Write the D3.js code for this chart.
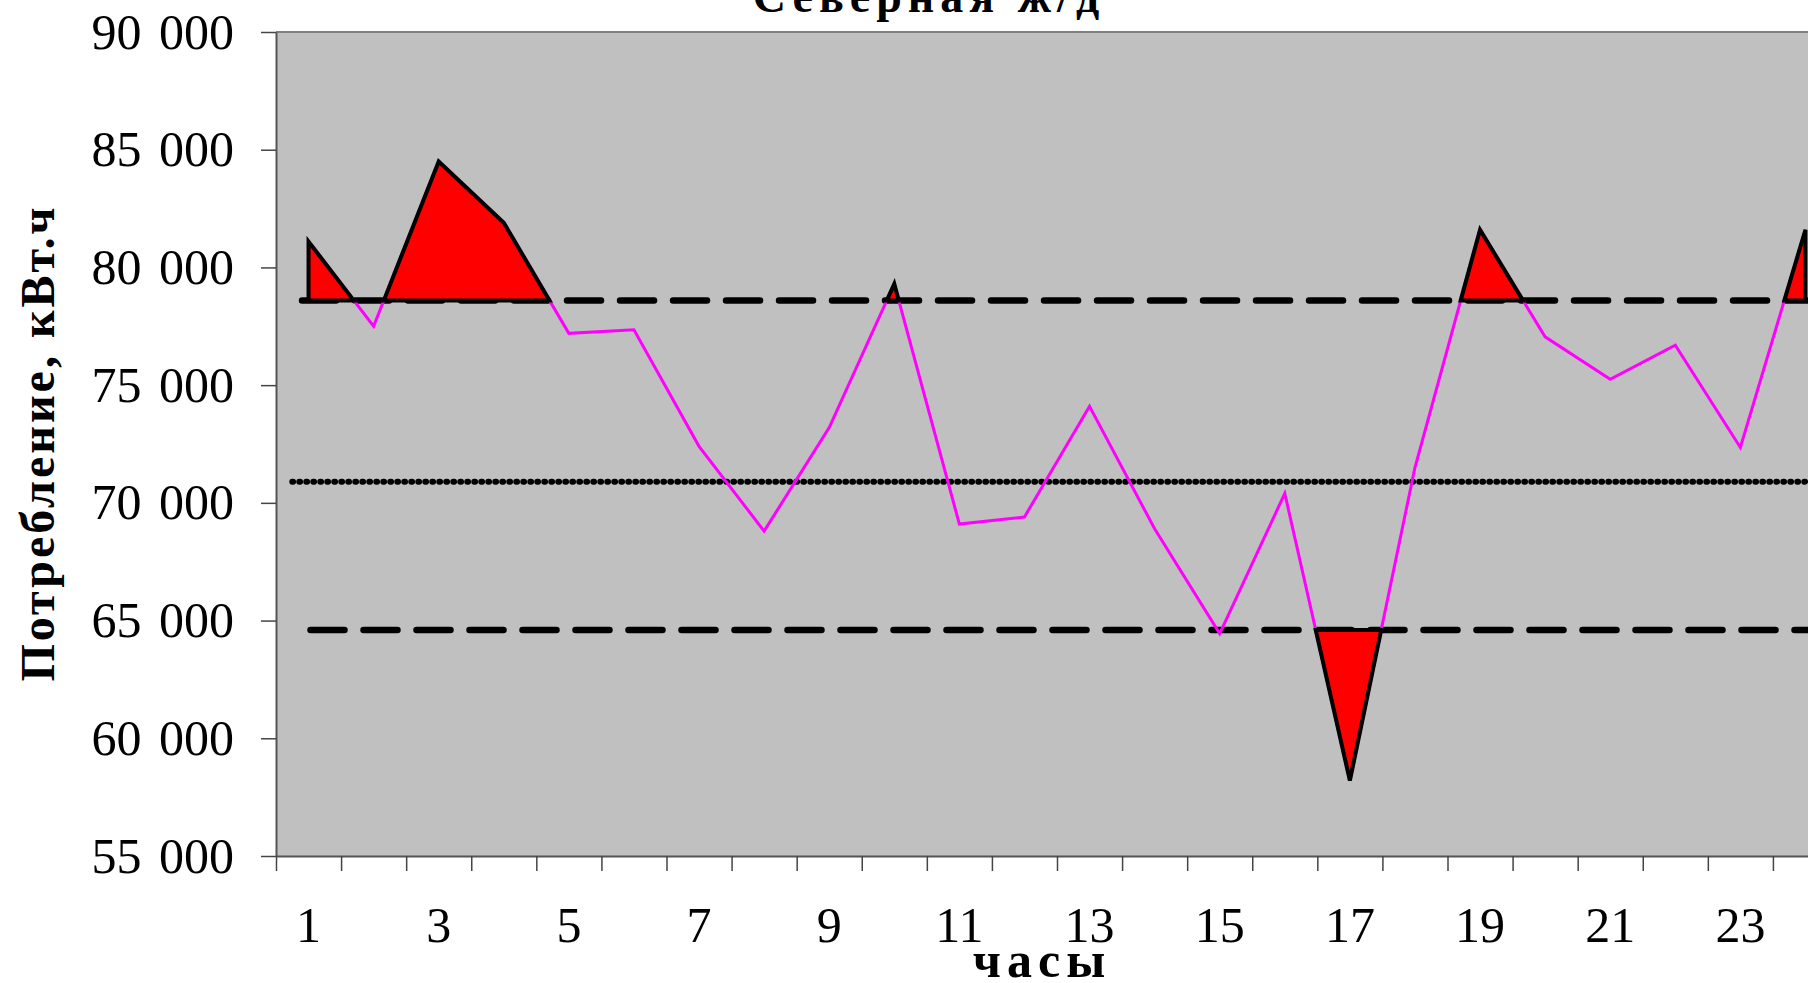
<!DOCTYPE html>
<html>
<head>
<meta charset="utf-8">
<script src="https://cdn.jsdelivr.net/npm/d3@7/dist/d3.min.js"></script>
<style>
    body { margin: 0; background: #fff; overflow: hidden; }
    svg { display: block; font-family: "Liberation Serif", "Times New Roman", serif; }
</style>
</head>
<body>
<div id="chart-area"></div>
<script>
// Hourly consumption, Северная ж/д
var hours = [1, 2, 3, 4, 5, 6, 7, 8, 9, 10, 11, 12, 13, 14, 15, 16, 17, 18, 19, 20, 21, 22, 23, 24];
var consumption = [81100, 77500, 84500, 81900, 77200, 77350, 72400, 68800, 73200, 79300, 69100, 69400,
                   74100, 68900, 64450, 70400, 58200, 71500, 81600, 77050, 75250, 76700, 72350, 81600];
// control limits
var meanLevel = 70900;
var upperLimit = 78600;
var lowerLimit = 64600;
// hours marked as out of limits
var flaggedHours = [1, 3, 4, 10, 17, 19, 24];

var yTickValues = [55000, 60000, 65000, 70000, 75000, 80000, 85000, 90000];
var xTickLabels = [1, 3, 5, 7, 9, 11, 13, 15, 17, 19, 21, 23];

var width = 1808, height = 983;

var svg = d3.select("#chart-area")
    .append("svg")
        .attr("width", width)
        .attr("height", height);

// Scales
var x = d3.scaleLinear()
    .domain([0.5, 24.5])
    .range([276, 1838]);
var y = d3.scaleLinear()
    .domain([55000, 90000])
    .range([856, 32]);

var ru = d3.formatLocale({ decimal: ",", thousands: " ", grouping: [3], currency: ["", " руб."] });

// Plot area
svg.append("rect")
    .attr("x", x(0.5))
    .attr("y", y(90000))
    .attr("width", x(24.5) - x(0.5))
    .attr("height", y(55000) - y(90000))
    .attr("fill", "#c0c0c0");
svg.append("line")
    .attr("x1", x(0.5)).attr("x2", x(24.5))
    .attr("y1", y(90000)).attr("y2", y(90000))
    .attr("stroke", "#808080")
    .attr("stroke-width", 2);

// Control lines
svg.append("line")
    .attr("x1", x(0.9)).attr("x2", x(24.5))
    .attr("y1", y(upperLimit)).attr("y2", y(upperLimit))
    .attr("stroke", "#000").attr("stroke-width", 6.5)
    .attr("stroke-linecap", "round")
    .attr("stroke-dasharray", "34,19");
svg.append("line")
    .attr("x1", x(1.03)).attr("x2", x(24.5))
    .attr("y1", y(lowerLimit)).attr("y2", y(lowerLimit))
    .attr("stroke", "#000").attr("stroke-width", 6.5)
    .attr("stroke-linecap", "round")
    .attr("stroke-dasharray", "34,19");
svg.append("line")
    .attr("x1", x(0.75)).attr("x2", x(24.5))
    .attr("y1", y(meanLevel)).attr("y2", y(meanLevel))
    .attr("stroke", "#000").attr("stroke-width", 6)
    .attr("stroke-linecap", "round")
    .attr("stroke-dasharray", "0.8,6.2");

// Consumption line
var line = d3.line()
    .x(function(d, i){ return x(hours[i]); })
    .y(function(d){ return y(d); });
svg.append("path")
    .datum(consumption)
    .attr("d", line)
    .attr("fill", "none")
    .attr("stroke", "#ff00ff")
    .attr("stroke-width", 3)
    .attr("stroke-linejoin", "miter");

// Excursions beyond the limits (filled red)
function excursions(limit, above) {
    var out = [], cur = null, marked = false;
    function beyond(v){ return above ? v > limit : v < limit; }
    function cross(i){
        var t = (limit - consumption[i-1]) / (consumption[i] - consumption[i-1]);
        return [hours[i-1] + t * (hours[i] - hours[i-1]), limit];
    }
    consumption.forEach(function(v, i){
        if (beyond(v)) {
            if (!cur) {
                cur = [];
                marked = false;
                cur.push(i > 0 ? cross(i) : [hours[i], limit]);
            }
            cur.push([hours[i], v]);
            if (flaggedHours.indexOf(hours[i]) >= 0) marked = true;
        } else if (cur) {
            cur.push(cross(i));
            if (marked) out.push(cur);
            cur = null;
        }
    });
    if (cur) {
        cur.push([hours[hours.length - 1], limit]);
        if (marked) out.push(cur);
    }
    return out;
}

var area = d3.line()
    .x(function(d){ return x(d[0]); })
    .y(function(d){ return y(d[1]); });

svg.selectAll("path.excursion")
    .data(excursions(upperLimit, true).concat(excursions(lowerLimit, false)))
    .enter()
    .append("path")
        .attr("class", "excursion")
        .attr("d", function(d){ return area(d) + "Z"; })
        .attr("fill", "#ff0000")
        .attr("stroke", "#000")
        .attr("stroke-width", 4)
        .attr("stroke-linejoin", "miter");

// Y Axis
var yAxisCall = d3.axisLeft(y)
    .tickValues(yTickValues)
    .tickSize(15)
    .tickSizeOuter(0)
    .tickPadding(27)
    .tickFormat(ru.format(",.0f"));
var yAxis = svg.append("g")
    .attr("class", "y axis")
    .attr("transform", "translate(" + x(0.5) + ",0)")
    .call(yAxisCall);

// X Axis: ticks on category boundaries, labels on odd hours
var xAxisCall = d3.axisBottom(x)
    .tickValues(d3.range(0.5, 24.5, 1))
    .tickSize(15)
    .tickSizeOuter(0)
    .tickFormat("");
var xAxis = svg.append("g")
    .attr("class", "x axis")
    .attr("transform", "translate(0," + y(55000) + ")")
    .call(xAxisCall);

[yAxis, xAxis].forEach(function(a){
    a.select(".domain").attr("stroke", "#555").attr("stroke-width", 2);
    a.selectAll(".tick line").attr("stroke", "#444").attr("stroke-width", 1.5);
});
yAxis.selectAll(".tick text")
    .attr("font-size", "50px")
    .attr("font-family", "Liberation Serif")
    .attr("fill", "#000")
    .attr("word-spacing", "5px");

svg.append("g").selectAll("text")
    .data(xTickLabels)
    .enter()
    .append("text")
        .attr("x", function(d){ return x(d); })
        .attr("y", 942)
        .attr("text-anchor", "middle")
        .attr("font-size", "50px")
        .text(function(d){ return d; });

// Labels
svg.append("text")
    .attr("x", 929)
    .attr("y", 12)
    .attr("text-anchor", "middle")
    .attr("font-size", "46px")
    .attr("font-weight", "bold")
    .attr("letter-spacing", "6px")
    .text("Северная ж/д");
svg.append("text")
    .attr("x", 1042)
    .attr("y", 977)
    .attr("text-anchor", "middle")
    .attr("font-size", "50px")
    .attr("font-weight", "bold")
    .attr("letter-spacing", "6px")
    .text("часы");
svg.append("text")
    .attr("transform", "translate(54,443) rotate(-90)")
    .attr("text-anchor", "middle")
    .attr("font-size", "48px")
    .attr("font-weight", "bold")
    .attr("letter-spacing", "3px")
    .text("Потребление, кВт.ч");
</script>
</body>
</html>
